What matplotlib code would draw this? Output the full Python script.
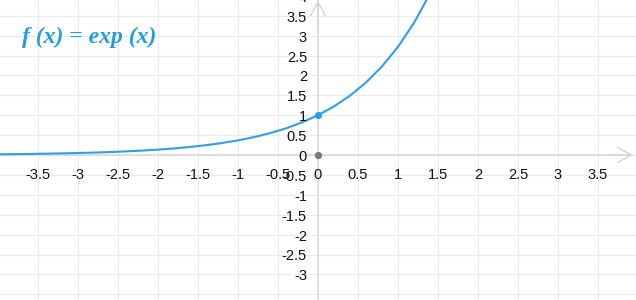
import matplotlib
matplotlib.use("Agg")
import matplotlib.pyplot as plt

# Curve samples (f(x) = exp(x))
curve_x = [-4.0, -3.8, -3.6, -3.4, -3.2, -3.0, -2.8, -2.6, -2.4, -2.2, -2.0,
           -1.8, -1.6, -1.4, -1.2, -1.0, -0.8, -0.6, -0.4, -0.2, 0.0,
           0.2, 0.4, 0.6, 0.8, 1.0, 1.2, 1.4]
curve_y = [0.018, 0.022, 0.027, 0.033, 0.041, 0.050, 0.061, 0.074, 0.091, 0.111, 0.135,
           0.165, 0.202, 0.247, 0.301, 0.368, 0.449, 0.549, 0.670, 0.819, 1.000,
           1.221, 1.492, 1.822, 2.226, 2.718, 3.320, 4.055]

# Marked points
point_x = [0.0]
point_y = [1.0]
origin_x = [0.0]
origin_y = [0.0]

# Tick labels
x_ticks = [-3.5, -3, -2.5, -2, -1.5, -1, -0.5, 0, 0.5, 1, 1.5, 2, 2.5, 3, 3.5]
x_tick_labels = ["-3.5", "-3", "-2.5", "-2", "-1.5", "-1", "-0.5", "0",
                 "0.5", "1", "1.5", "2", "2.5", "3", "3.5"]
y_ticks = [4, 3.5, 3, 2.5, 2, 1.5, 1, 0.5, 0, -0.5, -1, -1.5, -2, -2.5, -3]
y_tick_labels = ["4", "3.5", "3", "2.5", "2", "1.5", "1", "0.5", "0",
                 "-0.5", "-1", "-1.5", "-2", "-2.5", "-3"]
grid_vals = [-4, -3.5, -3, -2.5, -2, -1.5, -1, -0.5, 0, 0.5, 1, 1.5, 2, 2.5, 3, 3.5, 4]

title = "f (x) = exp (x)"

W, H = 636, 300
XPX = 80.0   # px per x unit
YPX = 39.8   # px per y unit
ox, oy = 318.0, 155.0

fig = plt.figure(figsize=(W / 100, H / 100), dpi=100)
ax = fig.add_axes([0, 0, 1, 1])
ax.set_xlim(-ox / XPX, (W - ox) / XPX)
ax.set_ylim(-(H - oy) / YPX, oy / YPX)
ax.axis("off")

grid_c = "#ebebeb"
for g in grid_vals:
    ax.axvline(g, color=grid_c, lw=0.8, zorder=0)
    ax.axhline(g, color=grid_c, lw=0.8, zorder=0)

axis_c = "#d8d8d8"
xmin, xmax = ax.get_xlim()
ymin, ymax = ax.get_ylim()
ax.plot([xmin, xmax - 4 / XPX], [0, 0], color=axis_c, lw=1.1, zorder=1)
ax.plot([0, 0], [ymin, ymax], color=axis_c, lw=1.1, zorder=1)
# arrow heads
ax.annotate("", xy=(xmax - 3 / XPX, 0), xytext=(xmax - 30 / XPX, 0),
            arrowprops=dict(arrowstyle="->,head_length=1.0,head_width=0.55",
                            color=axis_c, lw=1.1, shrinkA=0, shrinkB=0), zorder=1)
ax.annotate("", xy=(0, ymax - 0.5 / YPX), xytext=(0, ymax - 30 / YPX),
            arrowprops=dict(arrowstyle="->,head_length=1.0,head_width=0.55",
                            color=axis_c, lw=1.1, shrinkA=0, shrinkB=0), zorder=1)

curve_c = "#2e9fe8"
ax.plot(curve_x, curve_y, color=curve_c, lw=1.5, zorder=3, solid_capstyle="round")
ax.plot(point_x, point_y, "o", color=curve_c, ms=4.2, zorder=4)
ax.plot(origin_x, origin_y, "o", color="#777777", ms=4.2, zorder=4)

tick_font = dict(family="Liberation Sans", size=10.5, color="#111111")
for v, lab in zip(x_ticks, x_tick_labels):
    ax.text(v, -20 / YPX, lab, ha="center", va="center", zorder=5, **tick_font)
for v, lab in zip(y_ticks, y_tick_labels):
    ax.text(-11 / XPX, v - 2 / YPX, lab, ha="right", va="center", zorder=5, **tick_font)

fig.text(22 / W, 1 - 37 / H, title, ha="left", va="center",
         family="Liberation Serif", style="italic", weight="bold",
         size=17, color="#1f9fe0")

fig.savefig("out.png", dpi=100)
